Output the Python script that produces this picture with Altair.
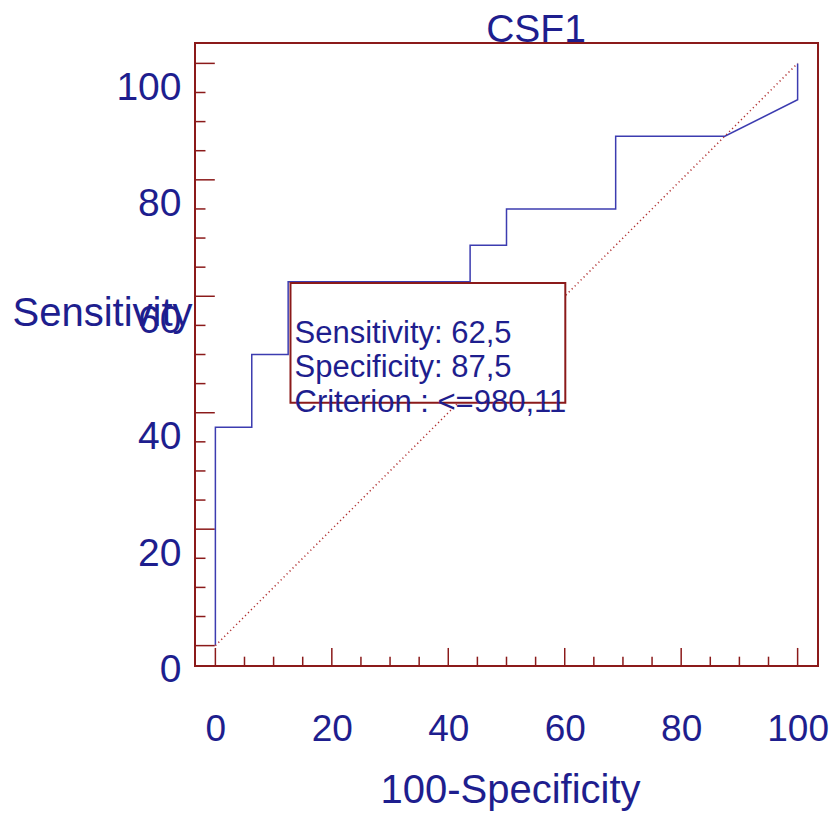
import altair as alt
import pandas as pd

# ---- data ----
fpr = [0, 0, 6.25, 6.25, 12.5, 12.5, 43.75, 43.75, 50, 50, 68.75, 68.75, 87.5, 100, 100]
tpr = [0, 37.5, 37.5, 50, 50, 62.5, 62.5, 68.75, 68.75, 75, 75, 87.5, 87.5, 93.75, 100]
diag_x = [0, 100]
diag_y = [0, 100]
major_ticks = [0, 20, 40, 60, 80, 100]
minor_ticks = [5, 10, 15, 25, 30, 35, 45, 50, 55, 65, 70, 75, 85, 90, 95]
box_x = [12.9, 60.1]
box_y = [41.7, 62.3]
box_lines = ["Sensitivity: 62,5", "Specificity: 87,5", "Criterion : <=980,11"]
chart_title = "CSF1"
x_title = "100-Specificity"
y_title = "Sensitivity"

# ---- styling ----
FONT = "Liberation Sans"
NAVY = "#1E1E8E"
LINE_BLUE = "#3C3CB0"
MAROON = "#8B1A1A"
DIAG = "#B03030"
DOM = [-3.5, 103.5]
W = H = 623

xscale = alt.Scale(domain=DOM, nice=False, zero=False)
yscale = alt.Scale(domain=DOM, nice=False, zero=False)

xaxis = alt.Axis(values=major_ticks, format="d", grid=False, domain=False, ticks=False, tickSize=0,
                 labelFont=FONT, labelFontSize=37, labelColor=NAVY, labelPadding=45,
                 labelBaseline="top", labelFlush=False, labelOverlap=False,
                 title=x_title, titleFont=FONT, titleFontSize=40, titleFontWeight="normal",
                 titleColor=NAVY, titleAngle=0, titleAlign="center", titleBaseline="alphabetic",
                 titleX=315, titleY=136)
yaxis = alt.Axis(values=major_ticks, format="d", grid=False, domain=False, ticks=False, tickSize=0,
                 labelFont=FONT, labelFontSize=39, labelColor=NAVY, labelPadding=14,
                 labelBaseline="top", labelOffset=5, labelFlush=False, labelOverlap=False,
                 title=y_title, titleFont=FONT, titleFontSize=40, titleFontWeight="normal",
                 titleColor=NAVY, titleAngle=0, titleAlign="left", titleBaseline="alphabetic",
                 titleX=-183, titleY=282)


def X(field):
    return alt.X(f"{field}:Q", scale=xscale, axis=xaxis)


def Y(field):
    return alt.Y(f"{field}:Q", scale=yscale, axis=yaxis)


# tick tables (inward ticks drawn from the frame)
ytick_rows = [{"v": v, "a": DOM[0], "b": DOM[0] + 3.4} for v in major_ticks] + \
             [{"v": v, "a": DOM[0], "b": DOM[0] + 1.8} for v in minor_ticks]
xtick_rows = [{"v": v, "a": DOM[0], "b": DOM[0] + 3.1} for v in major_ticks] + \
             [{"v": v, "a": DOM[0], "b": DOM[0] + 1.6} for v in minor_ticks]
ytick_df = pd.DataFrame(ytick_rows)
xtick_df = pd.DataFrame(xtick_rows)

roc_df = pd.DataFrame({"x": fpr, "y": tpr, "o": list(range(len(fpr)))})
diag_df = pd.DataFrame({"x": diag_x, "y": diag_y})
box_df = pd.DataFrame({"x": [box_x[0]], "x2": [box_x[1]], "y": [box_y[0]], "y2": [box_y[1]]})
text_df = pd.DataFrame({"x": [box_x[0]], "y": [box_y[1]], "t": ["\n".join(box_lines)]})
title_df = pd.DataFrame({"t": [chart_title]})

yticks = alt.Chart(ytick_df).mark_rule(color=MAROON, strokeWidth=1.5).encode(
    y=Y("v"), x=X("a"), x2="b")
xticks = alt.Chart(xtick_df).mark_rule(color=MAROON, strokeWidth=1.5).encode(
    x=X("v"), y=Y("a"), y2="b")

roc = alt.Chart(roc_df).mark_line(color=LINE_BLUE, strokeWidth=1.5).encode(
    x=X("x"), y=Y("y"), order="o:Q")

diag = alt.Chart(diag_df).mark_line(color=DIAG, strokeWidth=1.5, strokeDash=[1.2, 3]).encode(
    x=X("x"), y=Y("y"))

box = alt.Chart(box_df).mark_rect(fill="white", stroke=MAROON, strokeWidth=2).encode(
    x=X("x"), x2="x2", y=Y("y"), y2="y2")

box_text = alt.Chart(text_df).mark_text(
    align="left", baseline="alphabetic", dx=4, dy=60, lineBreak="\n", lineHeight=34.5,
    font=FONT, fontSize=31, color=NAVY).encode(x=X("x"), y=Y("y"), text="t:N")

title = alt.Chart(title_df).mark_text(
    align="center", baseline="alphabetic", font=FONT, fontSize=39, color=NAVY).encode(
    x=alt.value(341), y=alt.value(-1), text="t:N")

chart = alt.layer(yticks, xticks, roc, diag, box, box_text, title).properties(
    width=W, height=H,
    background="white",
    autosize=alt.AutoSizeParams(type="none"),
    padding={"left": 187, "top": 35, "right": 11, "bottom": 145},
).configure_view(stroke=MAROON, strokeWidth=2, fill="white")

chart.save("out.html", embed_options={"renderer": "svg", "actions": False})
